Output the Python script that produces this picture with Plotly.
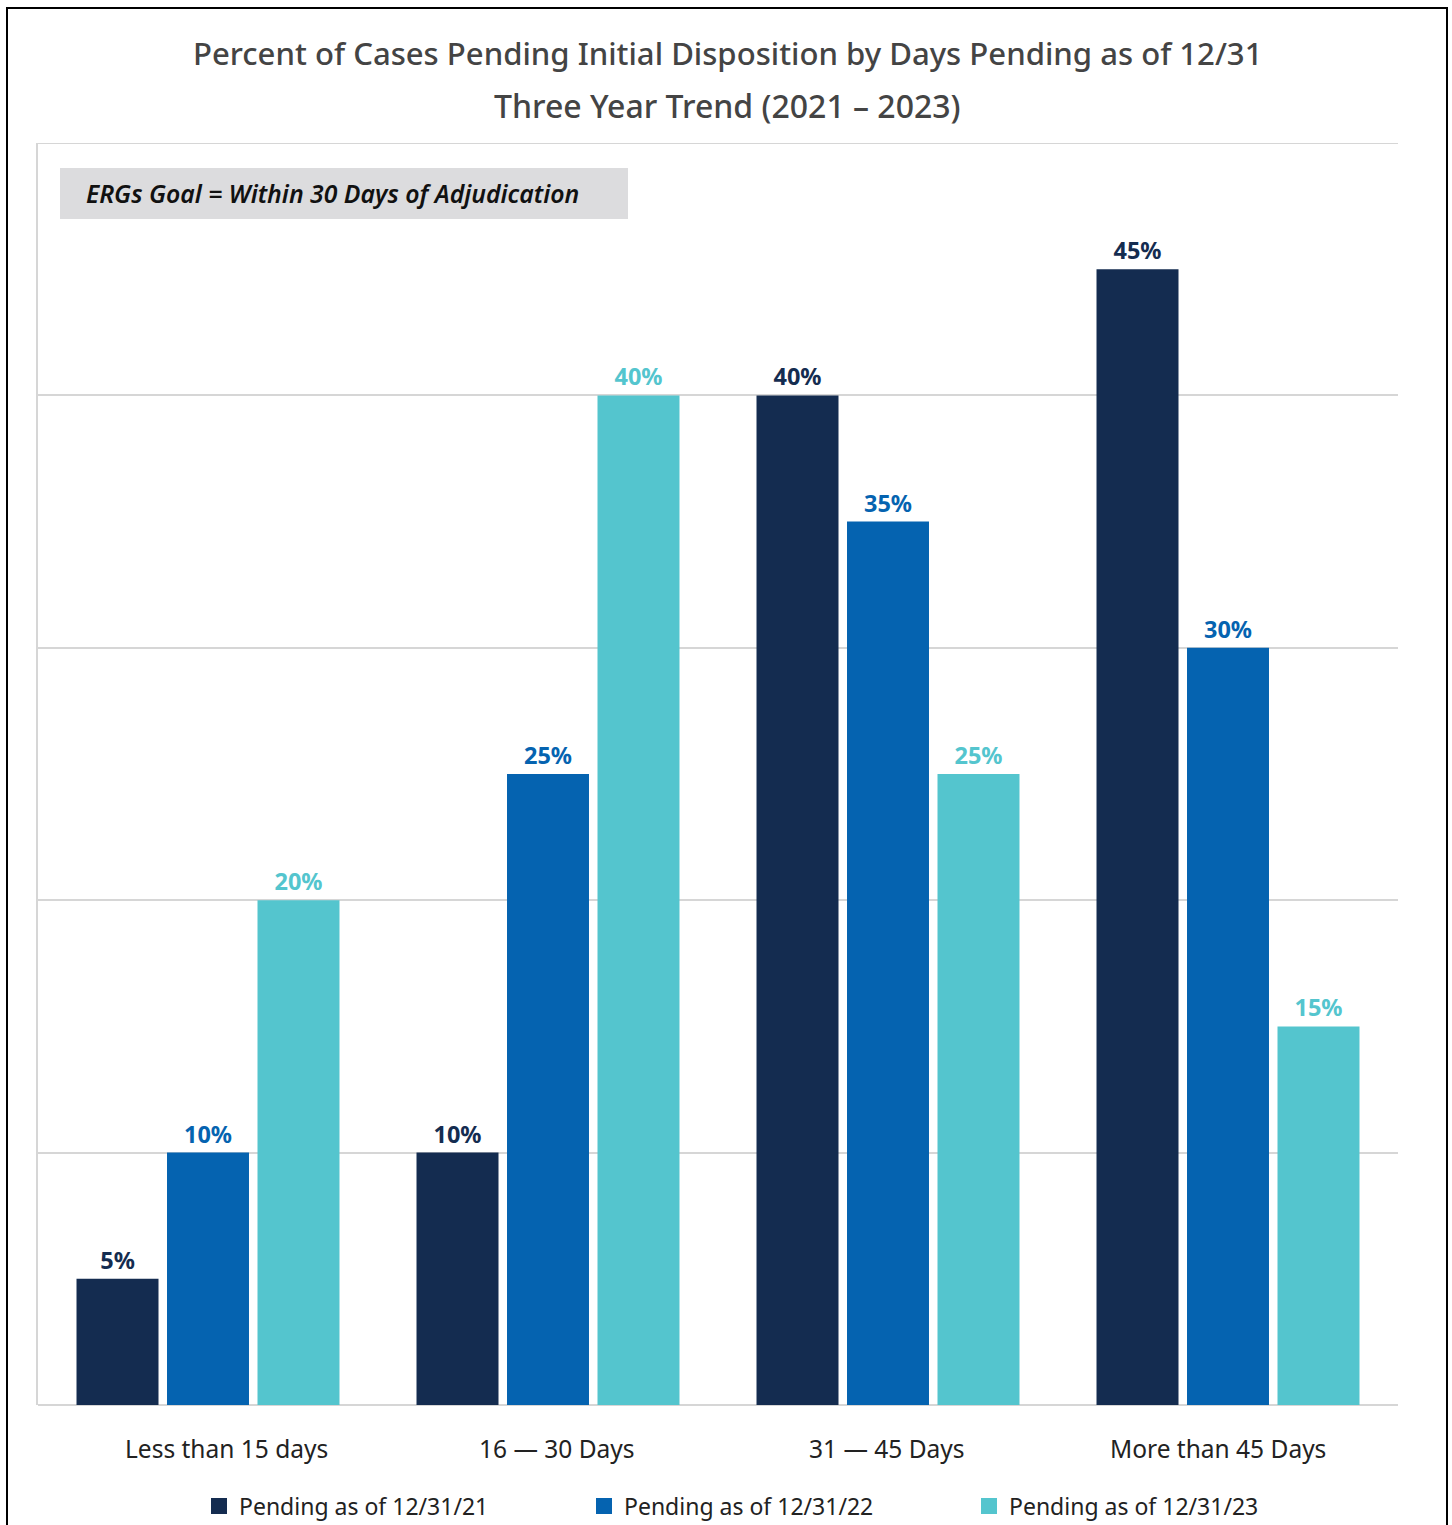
import plotly.graph_objects as go

categories = ["Less than 15 days", "16 \u2014 30 Days", "31 \u2014 45 Days", "More than 45 Days"]
series_names = ["Pending as of 12/31/21", "Pending as of 12/31/22", "Pending as of 12/31/23"]
vals_2021 = [5, 10, 40, 45]
vals_2022 = [10, 25, 35, 30]
vals_2023 = [20, 40, 25, 15]
colors = ["#142C50", "#0563B0", "#54C5CE"]

FONT = "Noto Sans"
W, H = 1452, 1525
L, R, T, B = 38, 54, 143, 120
PW, PH = W - L - R, H - T - B

def px(x):
    return (x - L) / PW

def py(y):
    return 1 - (y - T) / PH

fig = go.Figure()
for name, vals, col in zip(series_names, [vals_2021, vals_2022, vals_2023], colors):
    fig.add_trace(go.Bar(
        x=categories, y=vals, name=name, marker=dict(color=col, line=dict(width=0)),
        text=[f"{v}%" for v in vals], textposition="outside", cliponaxis=False,
        textfont=dict(family=FONT, size=23.5, color=col, weight="bold"),
        showlegend=False,
    ))
    fig.add_trace(go.Scatter(
        x=[None], y=[None], mode="markers", name=name,
        marker=dict(symbol="square", size=20, color=col), showlegend=True,
    ))

fig.update_layout(
    width=W, height=H,
    margin=dict(l=L, r=R, t=T, b=B, autoexpand=False),
    paper_bgcolor="white", plot_bgcolor="white",
    barmode="group", bargap=0.2015, bargroupgap=0.094,
    font=dict(family=FONT, color="#222222"),
    showlegend=True,
    legend=dict(orientation="h", x=px(199), xanchor="left", y=py(1506), yanchor="middle",
                font=dict(family=FONT, size=23, color="#222222"),
                entrywidth=340, entrywidthmode="pixels", itemsizing="trace",
                bgcolor="rgba(0,0,0,0)"),
    xaxis=dict(showgrid=False, ticks="", showticklabels=False,
               showline=False, zeroline=False),
    yaxis=dict(range=[0, 50], dtick=10, showticklabels=False, showgrid=True,
               gridcolor="#D6D6D6", gridwidth=2, zeroline=True, zerolinecolor="#D6D6D6",
               zerolinewidth=2, showline=True, linecolor="#D6D6D6", linewidth=2),
)

# Top gridline at 50%
fig.add_shape(type="line", xref="paper", yref="y", x0=0, x1=1, y0=50, y1=50,
              line=dict(color="#D6D6D6", width=2), layer="below")

# Category labels (placed as in the reference)
label_centers = [226.5, 556.5, 887, 1217.5]
for cat, cx in zip(categories, label_centers):
    fig.add_annotation(text=cat, xref="paper", yref="paper", x=px(cx), y=py(1448),
                       showarrow=False, xanchor="center", yanchor="middle",
                       font=dict(family=FONT, size=24.5, color="#222222"))

# Title lines
fig.add_annotation(text="Percent of Cases Pending Initial Disposition by Days Pending as of 12/31",
                   xref="paper", yref="paper", x=px(727), y=py(53), showarrow=False,
                   xanchor="center", yanchor="middle",
                   font=dict(family=FONT, size=31.1, color="#444444", weight=500))
fig.add_annotation(text="Three Year Trend (2021 \u2013 2023)",
                   xref="paper", yref="paper", x=px(727), y=py(106), showarrow=False,
                   xanchor="center", yanchor="middle",
                   font=dict(family=FONT, size=32, color="#444444", weight=500))

# Goal box
fig.add_shape(type="rect", xref="paper", yref="paper", x0=px(60), x1=px(628), y0=py(219), y1=py(168),
              fillcolor="#DCDCDE", line=dict(width=0), layer="above")
fig.add_annotation(text="<i>ERGs Goal = Within 30 Days of Adjudication</i>",
                   xref="paper", yref="paper", x=px(84), y=py(193), showarrow=False,
                   xanchor="left", yanchor="middle",
                   font=dict(family=FONT, size=24.8, color="#111111", weight=600))

# Outer frame
fig.add_shape(type="rect", xref="paper", yref="paper", x0=px(7), x1=px(1447), y0=py(1540), y1=py(8),
              line=dict(color="#000000", width=2), fillcolor="rgba(0,0,0,0)", layer="above")

fig.write_html("out.html")
